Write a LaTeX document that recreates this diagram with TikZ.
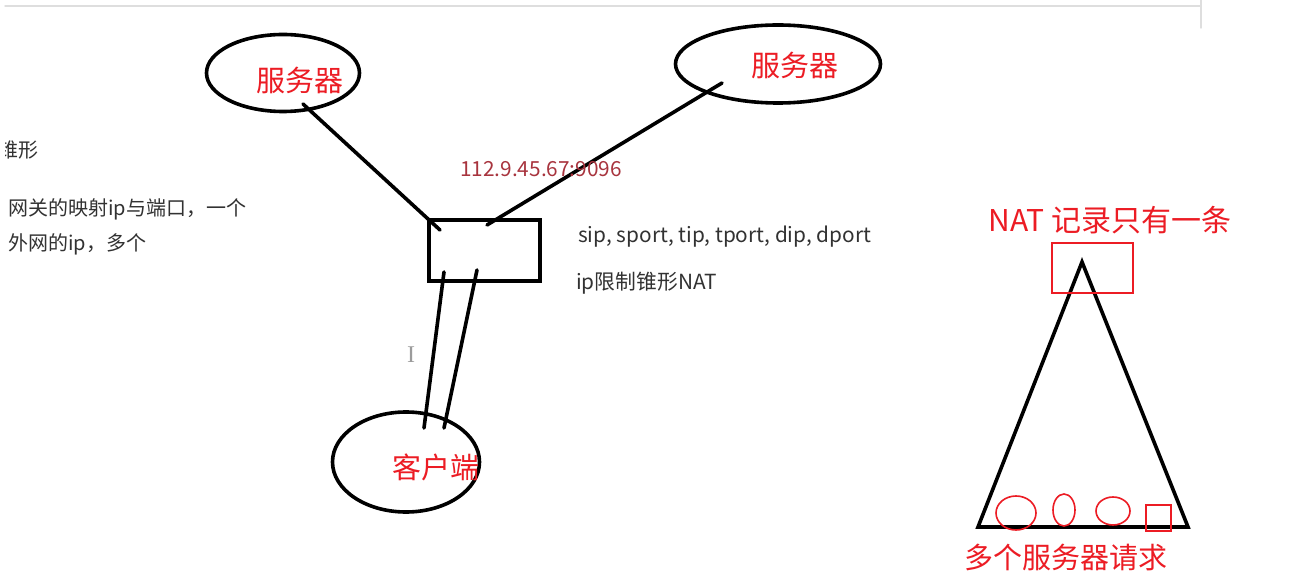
\documentclass[tikz,border=0pt]{standalone}
\usepackage{fontspec}
\setmainfont{Noto Sans CJK SC}
\newfontfamily\curfont{Liberation Serif}
\usetikzlibrary{shapes.geometric}
\definecolor{nred}{RGB}{236,28,36}
\definecolor{ipred}{RGB}{168,52,62}
\definecolor{tgray}{RGB}{50,50,50}
\definecolor{lgray}{RGB}{222,222,222}
\begin{document}
\begin{tikzpicture}[x=1pt,y=-1pt,line cap=round,
  blk/.style={draw=black,line width=3.6pt},
  ellnode/.style={blk,ellipse,inner sep=0pt},
  redt/.style={text=nred,font=\fontsize{29}{29}\selectfont,inner sep=0pt},
  grayt/.style={text=tgray,font=\fontsize{20.8}{21}\selectfont,inner sep=0pt,anchor=west},
  leftt/.style={text=tgray,font=\fontsize{20}{20}\selectfont,inner sep=0pt,anchor=west},
  redline/.style={draw=nred,line width=1.6pt}]
\useasboundingbox (0,0) rectangle (1306,585);
\fill[white] (0,0) rectangle (1306,585);
% screenshot frame remnants
\draw[lgray,line width=1.5pt] (5,6) -- (1200,6);
\draw[lgray,line width=1.5pt] (1201,0) -- (1201,28);
% ellipses and box
\node[ellnode,minimum width=153pt,minimum height=77pt] (s1) at (283,73) {};
\node[ellnode,minimum width=205pt,minimum height=78pt] (s2) at (778,64) {};
\node[ellnode,minimum width=147pt,minimum height=100pt] (cl) at (406,462) {};
\node[blk,minimum width=111pt,minimum height=61pt,inner sep=0pt] (gw) at (484.5,250.5) {};
% labels
\node[redt] (s1t) at (300,80) {服务器};
\node[redt] (s2t) at (795,65) {服务器};
\node[redt] (clt) at (436,467) {客户端};
% connectors
\coordinate (s1e) at (303,104);
\coordinate (g1) at (440,230);
\coordinate (s2e) at (722,83);
\coordinate (g2) at (487,225);
\coordinate (g3) at (444,272);
\coordinate (c1) at (424,428);
\coordinate (g4) at (477,270);
\coordinate (c2) at (444,428);
\draw[blk] (s1e) -- (g1);
\draw[blk] (s2e) -- (g2);
\draw[blk] (g3) -- (c1);
\draw[blk] (g4) -- (c2);
% texts
\node[text=ipred,font=\fontsize{20.8}{21}\selectfont,inner sep=0pt] (ip) at (541,169) {112.9.45.67:9096};
\node[grayt] (tup) at (578,237) {sip, sport, tip, tport, dip, dport};
\node[grayt] (lim) at (576,283) {ip限制锥形NAT};
\begin{scope}
\clip (5,0) rectangle (1306,585);
\node[leftt] (cone) at (-2,150) {锥形};
\end{scope}
\node[leftt] (gwt) at (8,209) {网关的映射ip与端口，一个};
\node[leftt] (ext) at (8,244) {外网的ip，多个};
\node[text=lgray!70!black,font=\curfont\fontsize{24}{24}\selectfont,inner sep=0pt] (cur) at (411,355) {I};
% triangle
\draw[blk,line join=miter] (1082,262) -- (1188,527) -- (978,527) -- cycle;
\draw[redline] (1052,243) rectangle (1133,293);
\node[redt,font=\fontsize{30}{30}\selectfont] (natt) at (1110,220) {NAT 记录只有一条};
\draw[redline] (1016,513) ellipse [x radius=20pt,y radius=17pt];
\draw[redline] (1064,510) ellipse [x radius=11pt,y radius=16pt];
\draw[redline] (1113,511) ellipse [x radius=17pt,y radius=14pt];
\draw[redline] (1146,505) rectangle (1171,531);
\node[redt] (req) at (1066,557) {多个服务器请求};
\end{tikzpicture}
\end{document}
